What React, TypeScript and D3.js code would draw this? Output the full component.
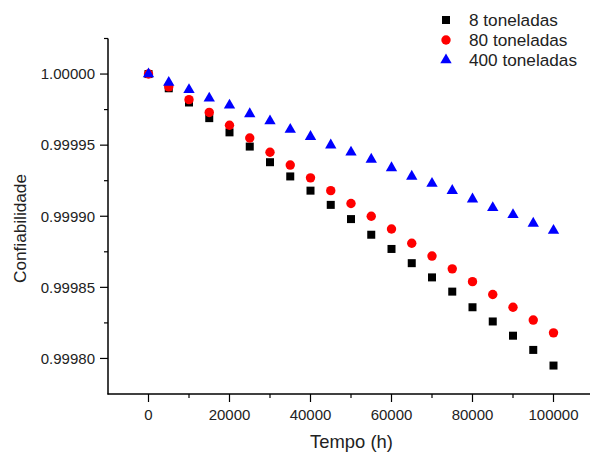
import React from "react";
import * as d3 from "d3";

const tempo = [0, 5000, 10000, 15000, 20000, 25000, 30000, 35000, 40000, 45000, 50000, 55000, 60000, 65000, 70000, 75000, 80000, 85000, 90000, 95000, 100000];
const ton8 = [1.0, 0.99999, 0.99998, 0.999969, 0.999959, 0.999949, 0.999938, 0.999928, 0.999918, 0.999908, 0.999898, 0.999887, 0.999877, 0.999867, 0.999857, 0.999847, 0.999836, 0.999826, 0.999816, 0.999806, 0.999795];
const ton80 = [1.0, 0.999991, 0.999982, 0.999973, 0.999964, 0.999955, 0.999945, 0.999936, 0.999927, 0.999918, 0.999909, 0.9999, 0.999891, 0.999881, 0.999872, 0.999863, 0.999854, 0.999845, 0.999836, 0.999827, 0.999818];
const ton400 = [1.0, 0.999994, 0.999989, 0.999983, 0.999978, 0.999972, 0.999967, 0.999961, 0.999956, 0.99995, 0.999945, 0.99994, 0.999934, 0.999928, 0.999923, 0.999918, 0.999912, 0.999906, 0.999901, 0.999895, 0.99989];
const seriesNames = ["8 toneladas", "80 toneladas", "400 toneladas"];
const xTicks = [0, 20000, 40000, 60000, 80000, 100000];
const yTicks = [0.9998, 0.99985, 0.9999, 0.99995, 1.0];

const W = 590, H = 454;
const FONT = "'Liberation Sans', Arial, sans-serif";

export default function App() {
  const x = d3.scaleLinear().domain([-10000, 110000]).range([108, 594]);
  const y = d3.scaleLinear().domain([0.999775, 1.000025]).range([394, 38.5]);
  const xMinor = d3.range(-10000, 110001, 10000).filter((v) => !xTicks.includes(v) && v > -10000);
  const yMinor = d3.range(0, 11).map((i) => 0.999775 + i * 0.000025).filter((v) => !yTicks.some((t) => Math.abs(t - v) < 1e-9) && v > 0.999776 && v < 1.000024);
  const tri = d3.symbol().type(d3.symbolTriangle).size(56)() as string;
  const series = [
    { name: seriesNames[0], vals: ton8, color: "#000000", shape: "square" },
    { name: seriesNames[1], vals: ton80, color: "#ff0000", shape: "circle" },
    { name: seriesNames[2], vals: ton400, color: "#0000ff", shape: "triangle" },
  ];
  const marker = (shape: string, color: string, cx: number, cy: number, key: any) => {
    if (shape === "square") return <rect key={key} x={cx - 4} y={cy - 4} width={8} height={8} fill={color} />;
    if (shape === "circle") return <circle key={key} cx={cx} cy={cy} r={4.7} fill={color} />;
    return <path key={key} d={tri} transform={`translate(${cx},${cy})`} fill={color} />;
  };
  return (
    <svg width={W} height={H} style={{ position: "absolute", left: 0, top: 0 }} fontFamily={FONT}>
      <rect width={W} height={H} fill="#fff" />
      {/* axes */}
      <line x1={108} x2={108} y1={y.range()[1]} y2={394.5} stroke="#000" strokeWidth={1.5} />
      <line x1={107.5} x2={W} y1={394} y2={394} stroke="#000" strokeWidth={1.5} />
      {yTicks.map((t) => (
        <g key={t}>
          <line x1={100} x2={108} y1={y(t)} y2={y(t)} stroke="#000" strokeWidth={1.2} />
          <text x={95} y={y(t)} dy="0.35em" textAnchor="end" fontSize={15} fill="#222">{t.toFixed(5)}</text>
        </g>
      ))}
      {[y.domain()[1], ...yMinor].map((t) => (
        <line key={"ym" + t} x1={104} x2={108} y1={y(t)} y2={y(t)} stroke="#000" strokeWidth={1.2} />
      ))}
      {xTicks.map((t) => (
        <g key={t}>
          <line x1={x(t)} x2={x(t)} y1={394} y2={402} stroke="#000" strokeWidth={1.2} />
          <text x={x(t)} y={420} textAnchor="middle" fontSize={15} fill="#222">{t}</text>
        </g>
      ))}
      {xMinor.map((t) => (
        <line key={"xm" + t} x1={x(t)} x2={x(t)} y1={394} y2={398} stroke="#000" strokeWidth={1.2} />
      ))}
      <text x={351.5} y={448} textAnchor="middle" fontSize={18.4} fill="#222">Tempo (h)</text>
      <text transform="translate(25.5,228.5) rotate(-90)" textAnchor="middle" fontSize={17.2} fill="#222">Confiabilidade</text>
      {/* data */}
      {series.map((s) => (
        <g key={s.name}>
          {s.vals.map((v, i) => marker(s.shape, s.color, x(tempo[i]), y(v), i))}
        </g>
      ))}
      {/* legend */}
      {series.map((s, i) => (
        <g key={"lg" + s.name}>
          {marker(s.shape, s.color, 446, 20 + i * 20, "m")}
          <text x={469} y={20 + i * 20} dy="0.35em" fontSize={17.2} fill="#222">{s.name}</text>
        </g>
      ))}
    </svg>
  );
}
